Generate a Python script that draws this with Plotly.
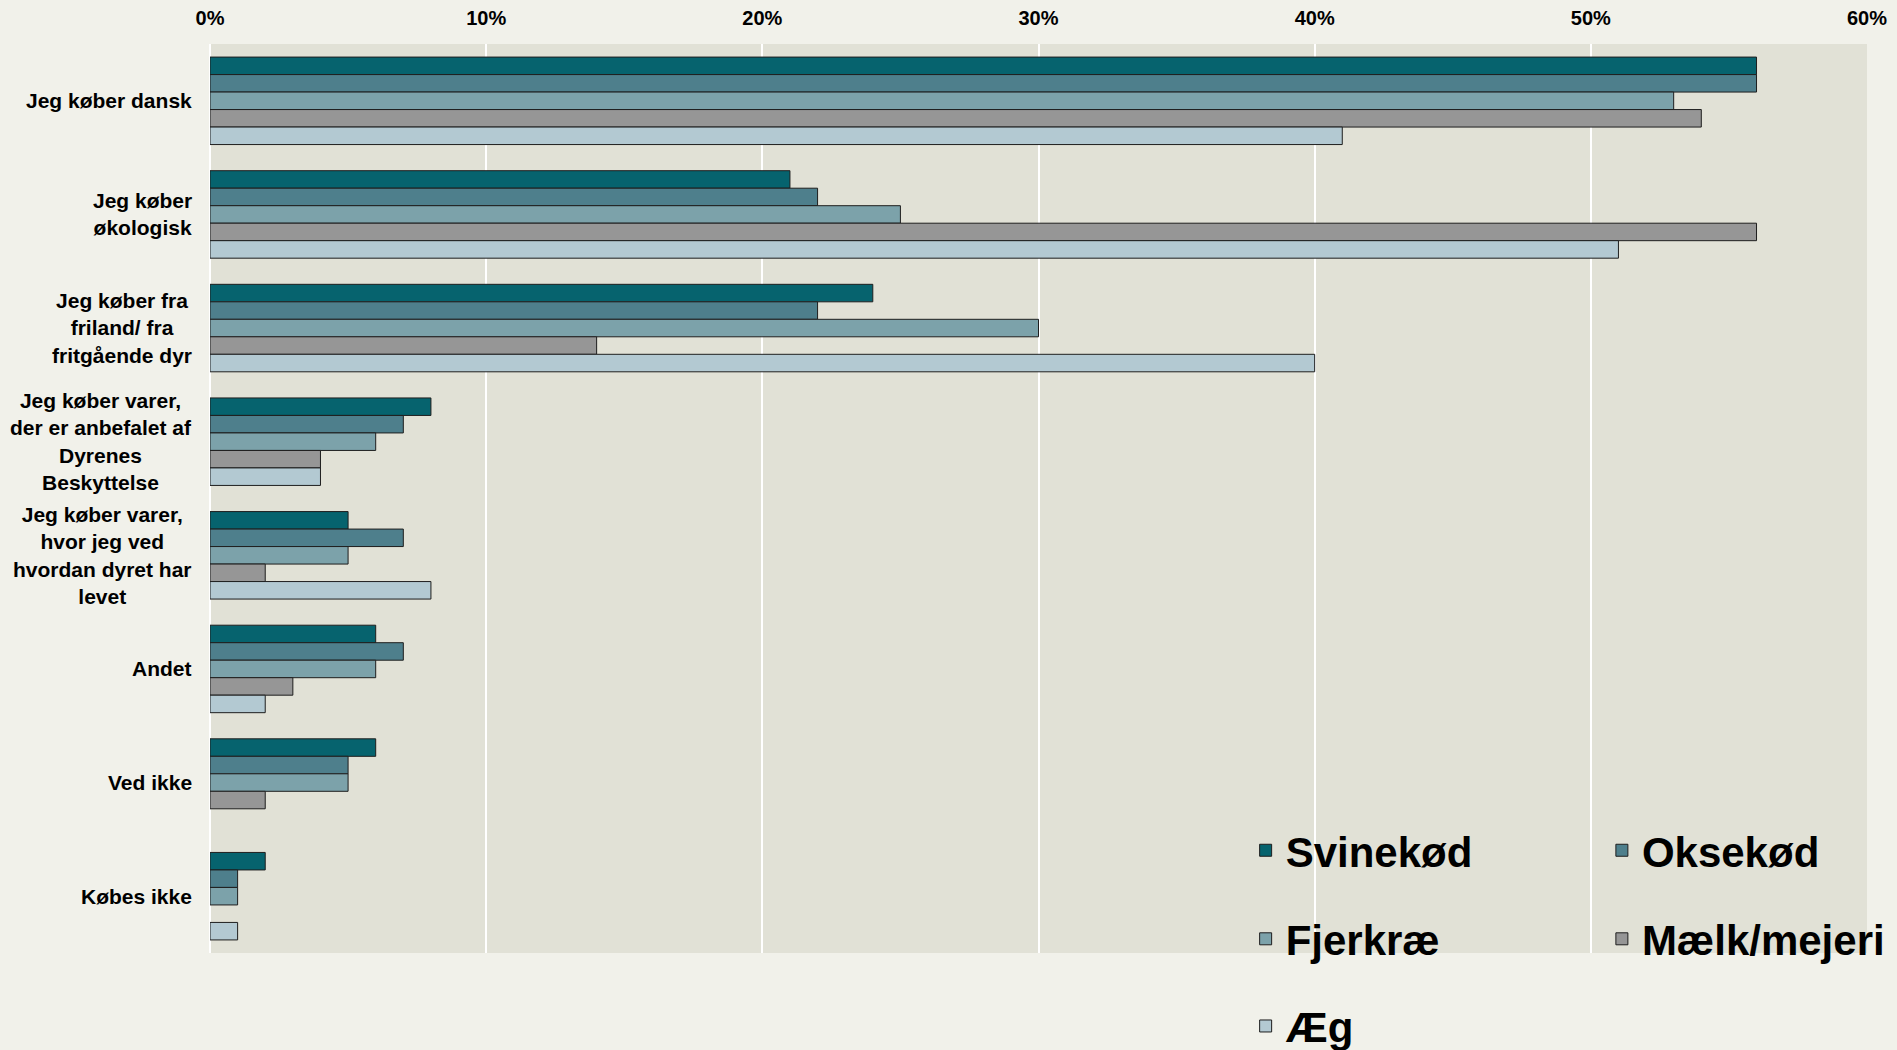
import plotly.graph_objects as go

categories = ["Jeg køber dansk", "Jeg køber økologisk", "Jeg køber fra friland/ fra fritgående dyr",
              "Jeg køber varer, der er anbefalet af Dyrenes Beskyttelse",
              "Jeg køber varer, hvor jeg ved hvordan dyret har levet",
              "Andet", "Ved ikke", "Købes ikke"]
category_labels = ["Jeg køber dansk", "Jeg køber<br>økologisk", "Jeg køber fra<br>friland/ fra<br>fritgående dyr",
                   "Jeg køber varer,<br>der er anbefalet af<br>Dyrenes<br>Beskyttelse",
                   "Jeg køber varer,<br>hvor jeg ved<br>hvordan dyret har<br>levet",
                   "Andet", "Ved ikke", "Købes ikke"]

series_names = ["Svinekød", "Oksekød", "Fjerkræ", "Mælk/mejeri", "Æg"]
svinekod = [56, 21, 24, 8, 5, 6, 6, 2]
oksekod = [56, 22, 22, 7, 7, 7, 5, 1]
fjerkrae = [53, 25, 30, 6, 5, 6, 5, 1]
maelk = [54, 56, 14, 4, 2, 3, 2, None]
aeg = [41, 51, 40, 4, 8, 2, None, 1]
series_values = [svinekod, oksekod, fjerkrae, maelk, aeg]
series_colors = ["#06636E", "#4E7F8C", "#7CA2AA", "#969696", "#B3C9D2"]

x_ticks = [0, 10, 20, 30, 40, 50, 60]
x_tick_labels = ["0%", "10%", "20%", "30%", "40%", "50%", "60%"]

FONT = "Liberation Sans, Arial, sans-serif"

# legend placements (paper coords) for each series
legend_pos = [(0.625, 0.1128), (0.840, 0.1128), (0.625, 0.0154), (0.840, 0.0154), (0.625, -0.0805)]

fig = go.Figure()
for i, (name, vals, col) in enumerate(zip(series_names, series_values, series_colors)):
    lname = "legend" if i == 0 else f"legend{i+1}"
    fig.add_trace(go.Bar(
        y=categories, x=vals, name=name, orientation="h",
        marker=dict(color=col, line=dict(color="#1e1e1e", width=1)),
        legend=lname,
    ))

layout_legends = {}
for i, (lx, ly) in enumerate(legend_pos):
    key = "legend" if i == 0 else f"legend{i+1}"
    layout_legends[key] = dict(
        x=lx, y=ly, xanchor="left", yanchor="middle",
        bgcolor="rgba(0,0,0,0)", borderwidth=0,
        font=dict(family=FONT, size=42, color="black", weight="bold"),
    )

annotations = []
for cat, lab in zip(categories, category_labels):
    annotations.append(dict(
        x=0, xref="paper", y=cat, yref="y", xanchor="right", yanchor="middle",
        xshift=-16, text=lab, showarrow=False, align="center",
        font=dict(family=FONT, size=21, color="black", weight="bold"),
    ))

fig.update_layout(
    width=1897, height=1050,
    margin=dict(l=210, r=30, t=44, b=97, autoexpand=False),
    paper_bgcolor="#F1F1EA", plot_bgcolor="#E1E1D6",
    barmode="group", bargap=0.23, bargroupgap=0,
    showlegend=True,
    annotations=annotations,
    xaxis=dict(
        side="top", range=[0, 60], tickvals=x_ticks, ticktext=x_tick_labels,
        showgrid=True, gridcolor="white", gridwidth=2,
        zeroline=True, zerolinecolor="white", zerolinewidth=2,
        ticks="outside", ticklen=10, tickcolor="rgba(0,0,0,0)",
        tickfont=dict(family=FONT, size=20, color="black", weight="bold"),
        automargin=False, fixedrange=True,
    ),
    yaxis=dict(
        autorange="reversed", showticklabels=False, showgrid=False, zeroline=False,
        type="category", categoryorder="array", categoryarray=categories,
        automargin=False, fixedrange=True,
    ),
    **layout_legends,
)

fig.write_html(
    "out.html",
    config={"displayModeBar": False},
    post_script="document.body.style.margin='0px';document.body.style.overflow='hidden';",
)
